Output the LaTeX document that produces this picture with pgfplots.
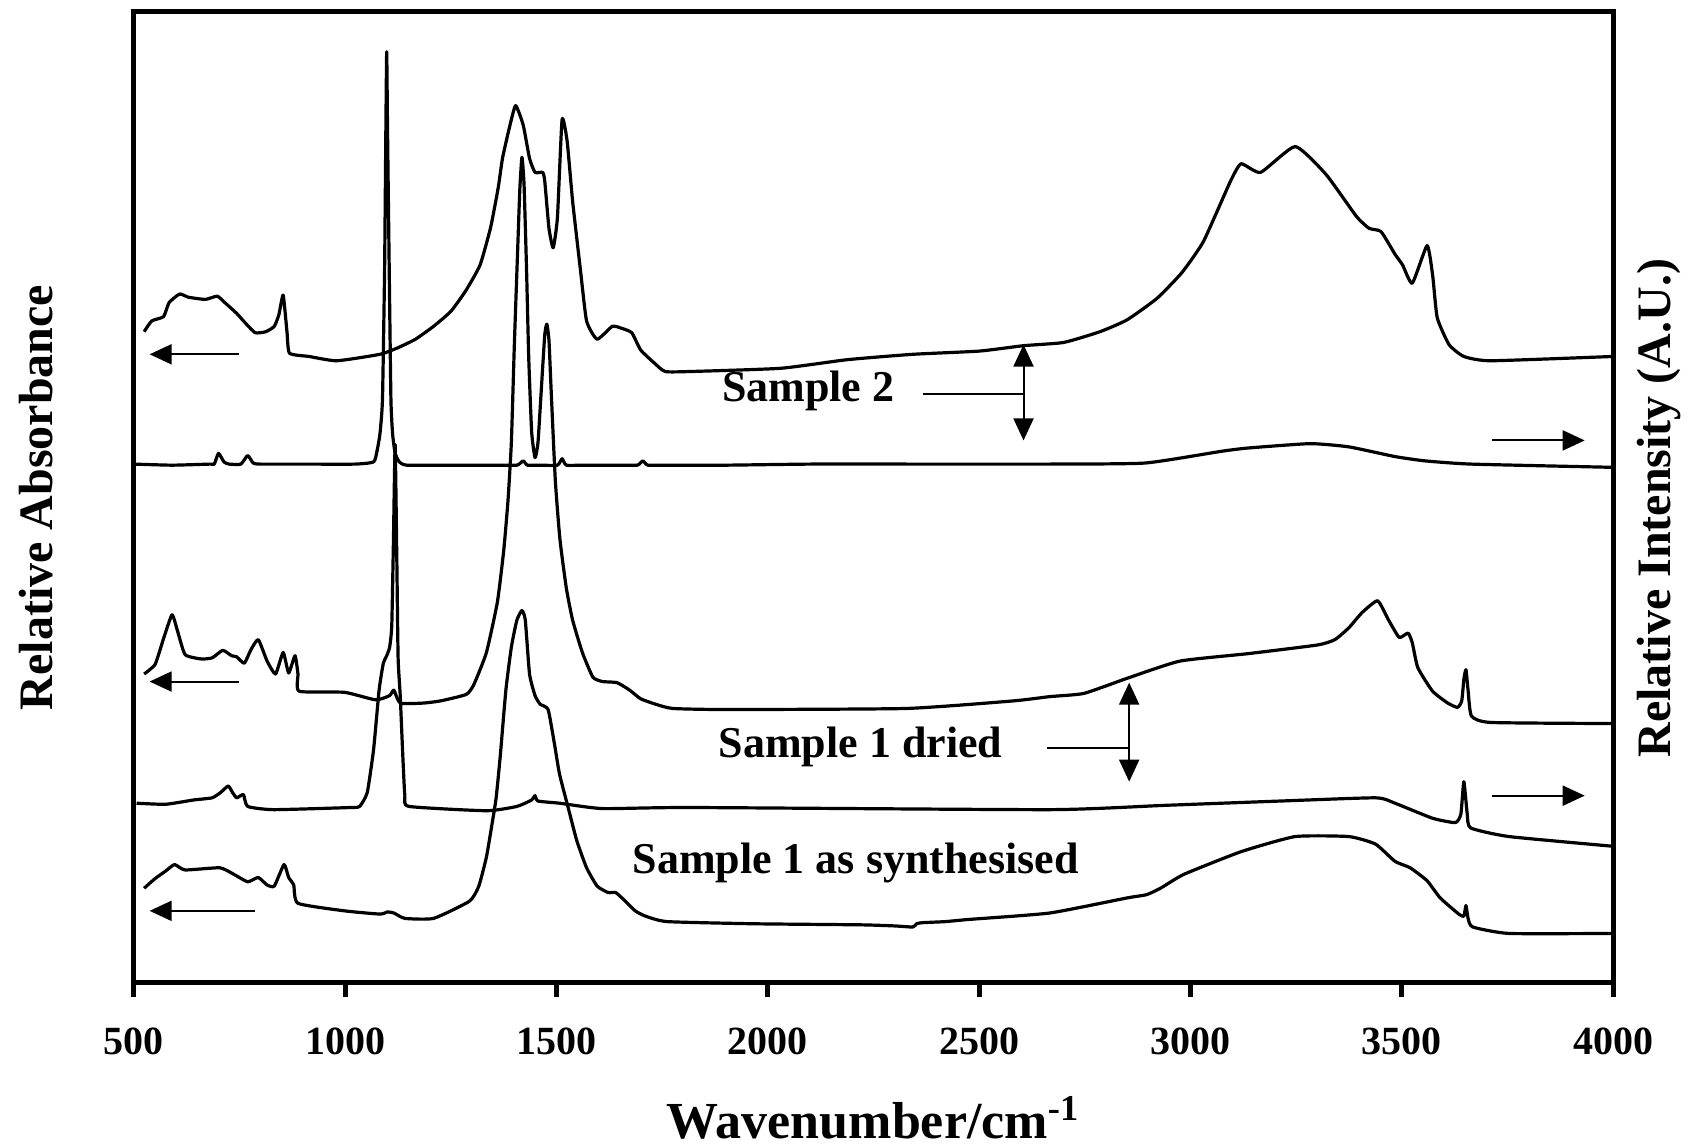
\documentclass[border=0pt]{standalone}
\usepackage{fontspec}
\setmainfont{Liberation Serif}
\usepackage{pgfplots}
\pgfplotsset{compat=1.18}
\usetikzlibrary{arrows.meta}

\begin{document}
\begin{tikzpicture}
\begin{axis}[
  scale only axis, width=369.75pt, height=242.75pt,
  xmin=500, xmax=4000, ymin=0, ymax=902,
  clip=false,
  axis line style={line width=1.25pt},
  xtick={500,1000,...,4000}, ytick=\empty,
  xtick pos=bottom, tick align=outside,
  major tick length=3.5pt,
  every tick/.style={black, line width=1.25pt},
  xticklabel style={font=\fontsize{10}{12}\selectfont\bfseries, yshift=-4.3pt},
  /pgf/number format/assume math mode=true,
  /pgf/number format/1000 sep={},
  xlabel={Wavenumber/cm\textsuperscript{-1}},
  xlabel style={font=\fontsize{13}{15}\selectfont\bfseries, at={(axis description cs:0.5,-0.16)}, anchor=base},
  ylabel={Relative Absorbance},
  ylabel style={font=\fontsize{12}{14}\selectfont\bfseries, at={(axis description cs:-0.066,0.5)}, anchor=center},
  cycle list={{black, mark=none}},
  every axis plot post/.append style={line width=0.8pt, line join=round, smooth, tension=0.3},
]

% Sample 2, IR
\addplot coordinates {
(524,605) (542,615) (570,619) (583,632) (608,640) (629,637) (669,635) (697,638)
(715,632) (743,622) (766,612) (787,604) (812,605) (832,610) (843,621) (853,639)
(862,605) (868,585) (914,582) (980,578) (1082,584) (1124,590) (1166,598) (1209,610)
(1250,624) (1285,643) (1319,667) (1344,702) (1362,739) (1372,766)
(1388,794) (1403,815) (1421,797) (1436,766) (1449,753) (1467,753) (1472,745)
(1482,701) (1492,683) (1502,711) (1513,802) (1525,782) (1538,726) (1556,664) (1571,615)
(1596,598) (1632,610) (1655,608) (1678,604) (1699,588) (1731,576) (1757,568) (1816,568)
(2030,571) (2188,579) (2343,584) (2501,587) (2605,592) (2700,595) (2786,605) (2850,616)
(2921,636) (2980,660) (3031,689) (3095,745) (3120,761) (3166,753) (3248,777) (3321,751)
(3393,712) (3423,701) (3451,698) (3484,677) (3502,667) (3525,650) (3560,685) (3573,658)
(3584,618) (3612,593) (3647,582) (3711,578) (4000,582)
};

% Sample 2, Raman
\addplot coordinates {
(500,482) (590,481) (680,482) (690,482) (700,492) (713,484) (725,482) (753,482)
(769,490) (782,483) (799,482) (900,482) (1023,482) (1067,484) (1075,494) (1082,510) (1088,542)
(1093,662) (1096,792) (1098,865) (1100,792) (1104,662) (1108,542) (1112,510) (1118,492)
(1128,484) (1146,481) (1250,481) (1350,481) (1406,481) (1421,485) (1431,481) (1460,481) (1502,481) (1513,487) (1523,481)
(1560,481) (1640,481) (1691,481) (1704,485) (1716,481) (1760,481) (1900,481) (2100,482) (2350,482)
(2667,482) (2893,483) (3075,494) (3138,497) (3283,501)
(3375,498) (3484,489) (3555,485) (3665,482) (4000,479)
};

% Sample 1 dried, IR
\addplot coordinates {
(524,287) (550,296) (570,320) (590,342) (603,327) (621,305) (659,301) (685,302)
(710,309) (731,304) (743,303) (761,297) (776,309) (794,319) (815,299) (835,287)
(853,307) (866,288) (881,304) (888,287) (891,271) (998,270) (1072,263) (1105,267)
(1115,272) (1130,260) (1184,260) (1225,262) (1286,268) (1304,277) (1334,307) (1360,354)
(1375,402) (1385,448) (1393,502) (1400,592) (1408,682) (1413,737) (1418,767) (1423,742)
(1429,662) (1434,582) (1441,512) (1449,488) (1456,502) (1464,552) (1472,602) (1477,612)
(1482,597) (1487,552) (1497,467) (1508,412) (1523,367) (1538,337) (1561,307) (1586,284)
(1609,280) (1643,279) (1673,272) (1699,264) (1734,259) (1775,255) (1902,254) (2328,255)
(2580,262) (2667,266) (2748,269) (2850,283) (2975,299) (3138,306) (3301,314) (3342,319)
(3375,330) (3406,344) (3443,355) (3469,337) (3494,321) (3515,325) (3525,316) (3538,293)
(3573,271) (3609,260) (3632,256) (3642,262) (3647,282) (3652,291) (3657,272) (3665,248)
(3711,242) (4000,241)
};

% Sample 1 dried, Raman
\addplot coordinates {
(506,167) (575,166) (641,170) (685,172) (705,177) (723,183) (733,177) (743,172)
(759,175) (769,164) (830,161) (1013,163) (1034,164) (1052,177) (1067,217) (1080,272)
(1090,297) (1098,304) (1105,312) (1110,332) (1114,412) (1118,500) (1122,392) (1125,302)
(1130,267) (1136,212) (1141,174) (1151,164) (1334,160) (1406,164) (1441,170) (1449,174)
(1456,169) (1507,167) (1609,162) (1816,163) (2667,161) (2939,165) (3212,169) (3438,172)
(3484,167) (3573,153) (3627,149) (3640,157) (3647,187) (3655,157) (3663,144) (3754,136)
(4000,127)
};

% Sample 1 as synthesised, IR
\addplot coordinates {
(524,88) (550,97) (575,104) (596,110) (621,105) (703,107) (736,101) (769,94)
(794,98) (815,91) (832,90) (855,110) (866,98) (878,91) (888,74) (998,67)
(1082,64) (1100,66) (1115,65) (1141,60) (1209,60) (1294,76) (1316,90) (1334,117)
(1347,147) (1357,172) (1367,212) (1380,272) (1393,312) (1406,337) (1418,346) (1426,337)
(1436,287) (1449,267) (1461,259) (1480,254) (1495,222) (1507,194) (1528,162) (1548,132)
(1571,107) (1596,90) (1622,84) (1640,84) (1660,77) (1686,67) (1711,62) (1762,57)
(1966,55) (2221,54) (2300,53) (2343,52) (2352,55) (2365,56) (2420,57) (2475,59) (2667,65) (2850,79) (2896,82)
(2929,88) (2985,101) (3120,122) (3248,136) (3375,136) (3438,129) (3484,113) (3520,107)
(3560,95) (3591,79) (3635,64) (3647,62) (3652,72) (3657,60) (3668,52) (3754,46)
(4000,46)
};

% annotations
\begin{scope}[line width=0.5pt, >={Triangle[length=5.5pt,width=5pt]}]
\draw[->] (axis cs:748,584) -- (axis cs:537,584);
\draw[->] (axis cs:748,280) -- (axis cs:537,280);
\draw[->] (axis cs:787,67) -- (axis cs:537,67);
\draw[->] (axis cs:3713,504) -- (axis cs:3933,504);
\draw[->] (axis cs:3713,174) -- (axis cs:3933,174);
\draw[<->] (axis cs:2605,593) -- (axis cs:2605,504);
\draw (axis cs:2366,547) -- (axis cs:2605,547);
\draw[<->] (axis cs:2855,279) -- (axis cs:2855,187);
\draw (axis cs:2661,218) -- (axis cs:2855,218);
\end{scope}
\begin{scope}[every node/.style={font=\fontsize{11}{13}\selectfont\bfseries, anchor=base west, inner sep=0pt}]
\node at (axis cs:1890,540) {Sample 2};
\node at (axis cs:1882,209) {Sample 1 dried};
\node at (axis cs:1678,102) {Sample 1 as synthesised};
\end{scope}
\node[rotate=90, font=\fontsize{12}{14}\selectfont\bfseries] at (axis description cs:1.031,0.489) {Relative Intensity (A.U.)};
\coordinate (sw) at (rel axis cs:0,0);
\coordinate (ne) at (rel axis cs:1,1);
\end{axis}
\pgfresetboundingbox
\path[use as bounding box] ([shift={(-33.5pt,-41pt)}]sw) rectangle ([shift={(18.75pt,3pt)}]ne);
\end{tikzpicture}
\end{document}
